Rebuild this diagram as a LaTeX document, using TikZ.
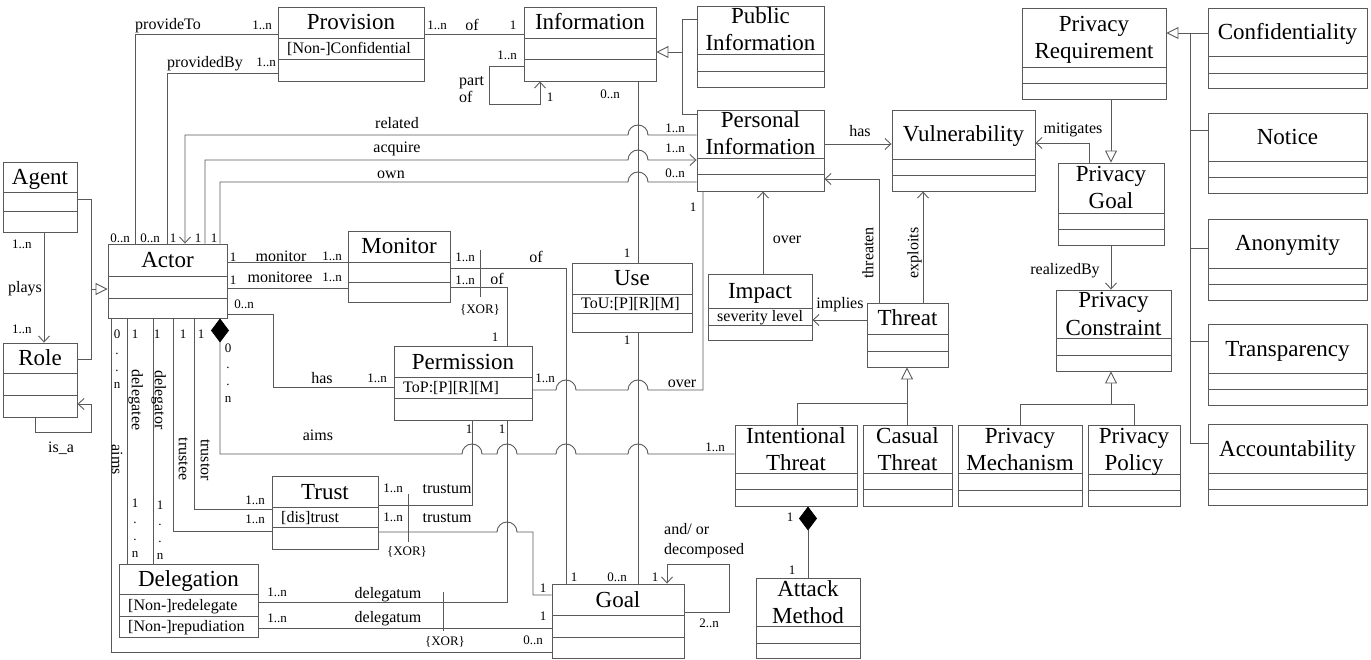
\documentclass[tikz,border=0pt]{standalone}
\usepackage{fontspec}
\setmainfont{Liberation Serif}
\usetikzlibrary{arrows.meta,fit,calc}
\definecolor{lc}{gray}{0.35}
% name, x1, y1, x2, y2, sep1, sep2, title line 1, title line 2
\newcommand\umlc[9]{%
\node[box, fit={(#2,#3) (#4,#5)}] (#1) {};
\draw[line] (#2,#6) -- (#4,#6) (#2,#7) -- (#4,#7);
\if\relax\detokenize{#9}\relax
  \node[ttl] (#1-t) at ({(#2+#4)/2},{(#3+#6)/2+7.5}) {#8};
\else
  \node[ttl] (#1-t) at ({(#2+#4)/2},{(#3+#6)/2-6}) {#8};
  \node[ttl] (#1-u) at ({(#2+#4)/2},{(#3+#6)/2+21}) {#9};
\fi
}
\newcommand\umla[4]{\node[att] (#1) at ({#2+9},{#3+5}) {#4};}
\begin{document}
\begin{tikzpicture}[x=1pt,y=-1pt,
  line/.style={draw=lc, line width=0.9pt},
  box/.style={draw=lc, line width=0.9pt, inner sep=0pt, rectangle},
  ttl/.style={font=\fontsize{23}{27}\selectfont, inner sep=0pt, anchor=base},
  att/.style={font=\fontsize{16}{18}\selectfont, anchor=base west, inner sep=0pt},
  lbl/.style={font=\fontsize{16}{18}\selectfont, inner sep=0pt, text height=10.5pt, text depth=0pt},
  mul/.style={font=\fontsize{13}{15}\selectfont, inner sep=0pt, text height=8.6pt, text depth=0pt},
  stk/.style={font=\fontsize{13}{16.7}\selectfont, inner sep=0pt, align=center},
  arr/.style={-{Straight Barb[length=6pt,width=11pt]}},
  gen/.style={-{Triangle[open,length=12pt,width=12pt,fill=white]}},
  comp/.style={{Diamond[length=24pt,width=18pt,fill=black,color=black]}-}
]
\useasboundingbox (0,0) rectangle (1371,660);

% ---------- classes ----------
\umlc{Provision}{278}{7}{424}{81}{38}{59}{Provision}{}
\umla{Provision-a}{278}{48.5}{[Non-]Confidential}
\umlc{Information}{524}{7}{656}{81}{38}{59}{Information}{}
\umlc{PubInfo}{697}{6}{824}{87}{54}{71}{Public}{Information}
\umlc{PersInfo}{697}{110}{824}{191}{158}{174}{Personal}{Information}
\umlc{Vuln}{892}{110}{1035}{191}{159}{175}{Vulnerability}{}
\umlc{PrivReq}{1022}{8}{1166}{99}{67}{83}{Privacy}{Requirement}
\umlc{Confid}{1208}{8}{1367}{88}{56}{73}{Confidentiality}{}
\umlc{Notice}{1208}{113}{1367}{193}{161}{177}{Notice}{}
\umlc{Anonym}{1208}{219}{1367}{300}{268}{284}{Anonymity}{}
\umlc{Transp}{1208}{324}{1367}{405}{373}{389}{Transparency}{}
\umlc{Account}{1208}{424}{1367}{505}{473}{489}{Accountability}{}
\umlc{PrivGoal}{1058}{163}{1164}{245}{213}{229}{Privacy}{Goal}
\umlc{PrivCons}{1056}{290}{1171}{371}{338}{355}{Privacy}{Constraint}
\umlc{PrivMech}{958}{425}{1082}{506}{473}{490}{Privacy}{Mechanism}
\umlc{PrivPol}{1088}{425}{1180}{506}{474}{490}{Privacy}{Policy}
\umlc{IntThreat}{735}{425}{857}{506}{473}{489}{Intentional}{Threat}
\umlc{CasThreat}{863}{425}{952}{506}{473}{489}{Casual}{Threat}
\umlc{Threat}{867}{303}{948}{367}{334}{351}{Threat}{}
\umlc{Impact}{708}{274}{812}{340}{308}{325}{Impact}{}
\umla{Impact-a}{708}{316.5}{severity level}
\umlc{Use}{572}{263}{692}{332}{294}{313}{Use}{}
\umla{Use-a}{572}{303.5}{ToU:[P][R][M]}
\umlc{Goal}{552}{584}{684}{658}{615}{637}{Goal}{}
\umlc{AttMeth}{756}{578}{860}{658}{626}{643}{Attack}{Method}
\umlc{Agent}{3}{162}{77}{232}{192}{211}{Agent}{}
\umlc{Role}{3}{343}{77}{417}{373}{395}{Role}{}
\umlc{Actor}{108}{244}{227}{318}{276}{298}{Actor}{}
\umlc{Monitor}{348}{231}{450}{302}{262}{282}{Monitor}{}
\umlc{Permission}{394}{346}{532}{420}{377}{398}{Permission}{}
\umla{Permission-a}{394}{387.5}{ToP:[P][R][M]}
\umlc{Trust}{272}{476}{378}{549}{507}{527}{Trust}{}
\umla{Trust-a}{272}{517}{[dis]trust}
\umlc{Delegation}{119}{564}{258}{637}{594}{616}{Delegation}{}
\umla{Delegation-a}{119}{605}{[Non-]redelegate}
\umla{Delegation-b}{119}{626.5}{[Non-]repudiation}

% ---------- connectors ----------
\draw[line] (Actor.north -| 135,0) -- (135,34) -- (Provision.west |- 0,34);
\draw[line] (Actor.north -| 167,0) -- (167,73) -- (Provision.west |- 0,73);
\draw[line] (Provision.east |- 0,34) -- (Information.west |- 0,34);
\draw[line,arr] (Information.west |- 0,66) -- (489,66) -- (489,104) -- (540,104) -- (Information.south -| 540,0);
\draw[line,gen] (PubInfo.west |- 0,19) -- (682,19) -- (682,52) -- (Information.east |- 0,52);
\draw[line] (PersInfo.west |- 0,114) -- (682,114) -- (682,52);
\draw[line,arr] (PersInfo.west |- 0,135) -- (648,135) arc[start angle=0,end angle=180,radius=10pt] -- (185,135) -- (Actor.north -| 185,0);
\draw[line,arr] (Actor.north -| 205,0) -- (205,160) -- (628,160) arc[start angle=180,end angle=0,radius=10pt] -- (PersInfo.west |- 0,160);
\draw[line] (Actor.north -| 220,0) -- (220,182) -- (628,182) arc[start angle=180,end angle=0,radius=10pt] -- (PersInfo.west |- 0,182);
\draw[line] (Information.south -| 638,0) -- (Use.north -| 638,0);
\draw[line] (Use.south -| 638,0) -- (Goal.north -| 638,0);
\draw[line,arr] (PersInfo.east |- 0,144) -- (Vuln.west |- 0,144);
\draw[line,arr] (Impact.north -| 763,0) -- (PersInfo.south -| 763,0);
\draw[line,arr] (Threat.north -| 879,0) -- (879,179) -- (PersInfo.east |- 0,179);
\draw[line,arr] (Threat.north -| 923,0) -- (Vuln.south -| 923,0);
\draw[line,arr] (Threat.west |- 0,320) -- (Impact.east |- 0,320);
\draw[line,gen] (IntThreat.north -| 797,0) -- (797,403) -- (907,403) -- (Threat.south -| 907,0);
\draw[line] (CasThreat.north -| 907,0) -- (907,403);
\draw[line,comp] (IntThreat.south -| 808,0) -- (AttMeth.north -| 808,0);
\draw[line,arr] (PrivGoal.north -| 1089,0) -- (1089,143) -- (Vuln.east |- 0,143);
\draw[line,gen] (PrivReq.south -| 1111,0) -- (PrivGoal.north -| 1111,0);
\draw[line,arr] (PrivGoal.south -| 1111,0) -- (PrivCons.north -| 1111,0);
\draw[line,gen] (PrivMech.north -| 1020,0) -- (1020,404) -- (1111,404) -- (PrivCons.south -| 1111,0);
\draw[line] (PrivPol.north -| 1134,0) -- (1134,404) -- (1111,404);
\draw[line,gen] (Account.west |- 0,443) -- (1190,443) -- (1190,33) -- (PrivReq.east |- 0,33);
\draw[line] (Confid.west |- 0,33) -- (1190,33);
\draw[line] (Notice.west |- 0,130) -- (1190,130);
\draw[line] (Anonym.west |- 0,248) -- (1190,248);
\draw[line] (Transp.west |- 0,341) -- (1190,341);
% left part
\draw[line,arr] (Agent.south -| 44,0) -- (Role.north -| 44,0);
\draw[line,gen] (Agent.east |- 0,199) -- (91,199) -- (91,289) -- (Actor.west |- 0,289);
\draw[line] (Role.east |- 0,359) -- (91,359) -- (91,289);
\draw[line,arr] (Role.south -| 35,0) -- (35,432) -- (91,432) -- (91,404) -- (Role.east |- 0,404);
\draw[line] (Actor.east |- 0,262) -- (Monitor.west |- 0,262);
\draw[line] (Actor.east |- 0,288) -- (Monitor.west |- 0,288);
\draw[line] (Monitor.east |- 0,268) -- (566,268) -- (Goal.north -| 566,0);
\draw[line] (Monitor.east |- 0,287) -- (507,287) -- (Permission.north -| 507,0);
\draw[line] (480,250) -- (480,297);
\draw[line] (Actor.east |- 0,314) -- (273,314) -- (273,387) -- (Permission.west |- 0,387);
\draw[line] (Permission.east |- 0,390) -- (556,390) arc[start angle=180,end angle=0,radius=10pt] -- (628,390) arc[start angle=180,end angle=0,radius=10pt] -- (703,390) -- (PersInfo.south -| 703,0);
\draw[line] (Permission.south -| 472,0) -- (472,505) -- (Trust.east |- 0,505);
\draw[line] (Permission.south -| 507,0) -- (507,602) -- (Delegation.east |- 0,602);
\draw[line] (Trust.east |- 0,532) -- (497,532) arc[start angle=180,end angle=0,radius=10pt] -- (533,532) -- (533,595) -- (Goal.west |- 0,595);
\draw[line] (408,494) -- (408,542);
\draw[line] (Delegation.east |- 0,628) -- (Goal.west |- 0,628);
\draw[line] (443,592) -- (443,631);
\draw[line] (Actor.south -| 111,0) -- (111,652) -- (Goal.west |- 0,652);
\draw[line] (Actor.south -| 127,0) -- (Delegation.north -| 127,0);
\draw[line] (Actor.south -| 153,0) -- (Delegation.north -| 153,0);
\draw[line] (Actor.south -| 173,0) -- (173,531) -- (Trust.west |- 0,531);
\draw[line] (Actor.south -| 194,0) -- (194,509) -- (Trust.west |- 0,509);
\draw[line,comp] (Actor.south -| 220,0) -- (220,454) -- (462,454) arc[start angle=180,end angle=0,radius=10pt] -- (497,454) arc[start angle=180,end angle=0,radius=10pt] -- (556,454) arc[start angle=180,end angle=0,radius=10pt] -- (628,454) arc[start angle=180,end angle=0,radius=10pt] -- (IntThreat.west |- 0,454);
\draw[line,arr] (Goal.east |- 0,612) -- (729,612) -- (729,564) -- (667,564) -- (Goal.north -| 667,0);

% ---------- multiplicities ----------
\foreach \n/\x/\y/\t in {1/262/25/1..n, 2/266/62/1..n, 3/437/25/1..n, 4/513/25/1, 5/507/55/1..n,
  6/550/97/1, 7/610/94/0..n, 8/675/128/1..n, 9/675/148/1..n, 10/675/173/0..n,
  11/120/238/0..n, 12/150/238/0..n, 13/173/238/1, 14/198/238/1, 15/214/238/1,
  16/233/257/1, 17/332/256/1..n, 18/233/280/1, 19/332/277/1..n, 20/244/304/0..n,
  21/465/257/1..n, 22/465/280/1..n, 23/495/337/1, 24/377/378/1..n, 25/545/378/1..n,
  26/693/207/1, 27/469/429/1, 28/502/429/1, 29/715/447/1..n, 30/255/500/1..n,
  31/255/519/1..n, 32/393/488/1..n, 33/393/517/1..n, 34/543/588/1, 35/543/616/1,
  36/533/640/0..n, 37/574/577/1, 38/617/577/0..n, 39/655/577/1, 40/277/592/1..n,
  41/277/618/1..n, 42/709/623/2..n, 43/790/517/1, 44/792/570/1, 45/22/244/1..n,
  46/22/329/1..n, 47/627/253/1, 48/627/340/1, 49/135/334/1, 50/157/334/1,
  51/183/334/1, 52/201/334/1, 53/480/309/{\{XOR\}}, 54/407/551/{\{XOR\}}, 55/445/641/{\{XOR\}}}
  \node[mul] (m\n) at (\x,\y) {\t};

\node[stk] (s1) at (117,359) {0\\.\\.\\n};
\node[stk] (s2) at (228,373) {0\\.\\.\\n};
\node[stk] (s3) at (135,528) {1\\.\\.\\n};
\node[stk] (s4) at (160,530) {1\\.\\.\\n};

% ---------- labels ----------
\foreach \n/\x/\y/\t in {1/168/24/provideTo, 2/205/62/providedBy, 3/472/25/of, 4/397/123/related,
  5/397/147/acquire, 6/391/173/own, 7/281/256/monitor, 8/280/277/monitoree, 9/536/257/of,
  10/497/279/of, 11/322/378/has, 12/682/382/over, 13/318/435/aims, 14/447/488/trustum,
  15/447/517/trustum, 16/388/593/delegatum, 17/388/617/delegatum, 18/787/238/over,
  19/860/131/has, 20/840/303/implies, 21/1073/128/mitigates, 22/1065/269/realizedBy,
  23/61/447/is\_a, 24/25/287/plays}
  \node[lbl] (l\n) at (\x,\y) {\t};

\node[lbl, rotate=-90] (r1) at (137,400) {delegatee};
\node[lbl, rotate=-90] (r2) at (160,400) {delegator};
\node[lbl, rotate=-90] (r3) at (184,459) {trustee};
\node[lbl, rotate=-90] (r4) at (206,460) {trustor};
\node[lbl, rotate=-90] (r5) at (117,460) {aims};
\node[lbl, rotate=90] (r6) at (868,253) {threaten};
\node[lbl, rotate=90] (r7) at (913,253) {exploits};
\node[font=\fontsize{16}{17}\selectfont, inner sep=0pt, align=left, anchor=west] (p1) at (459,90) {part\\of};
\node[font=\fontsize{16}{20}\selectfont, inner sep=0pt, align=left, anchor=west] (p2) at (664,541) {and/ or\\decomposed};
\end{tikzpicture}
\end{document}
